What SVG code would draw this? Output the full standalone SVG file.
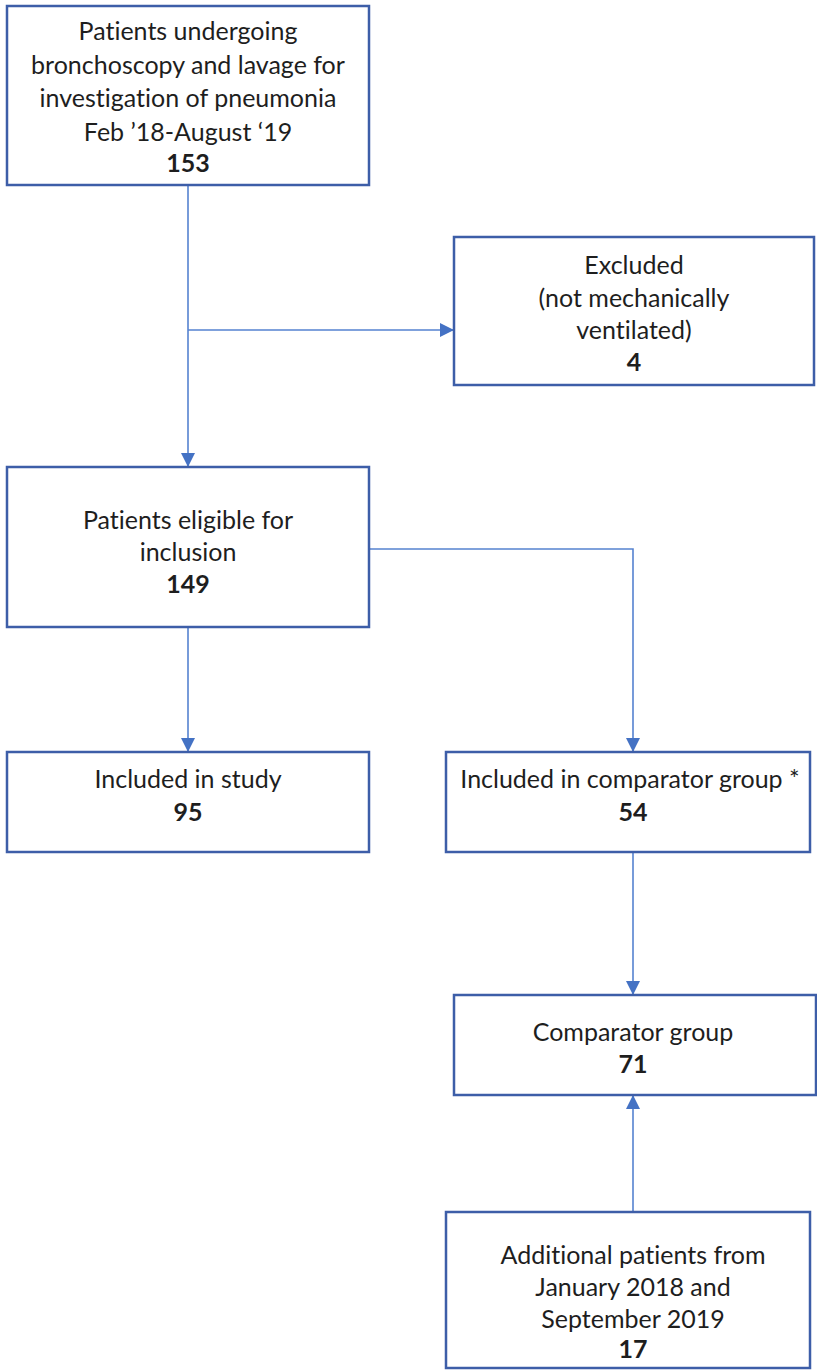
<svg xmlns="http://www.w3.org/2000/svg" width="817" height="1372" viewBox="0 0 817 1372">
<defs>
<style>
.box{fill:#fff;stroke:#3d5ea8;stroke-width:2.5}
.t{font-family:Lato,"Liberation Sans",sans-serif;font-size:25px;fill:#1e1e1e;text-anchor:middle;font-variant-ligatures:none}
.b{font-weight:bold}
.c{fill:none;stroke:#5582d0;stroke-width:1.6}
</style>
<marker id="ah2" viewBox="0 0 10 10" refX="10" refY="5" markerWidth="14" markerHeight="14" markerUnits="userSpaceOnUse" orient="auto"><path d="M0,0L10,5L0,10z" fill="#4472c4"/></marker>
</defs>
<rect width="817" height="1372" fill="#fff"/>
<g id="connectors">
<path class="c" d="M188,185V467" marker-end="url(#ah2)"/>
<path class="c" d="M188,330H454" marker-end="url(#ah2)"/>
<path class="c" d="M188,627V752" marker-end="url(#ah2)"/>
<path class="c" d="M369,549H633V752" marker-end="url(#ah2)"/>
<path class="c" d="M633,852V995" marker-end="url(#ah2)"/>
<path class="c" d="M633,1212V1095" marker-end="url(#ah2)"/>
</g>
<g id="n1"><rect class="box" x="7" y="6" width="362" height="179"/>
<text class="t" x="188" y="40">Patients undergoing</text>
<text class="t" x="188" y="74">bronchoscopy and lavage for</text>
<text class="t" x="188" y="107">investigation of pneumonia</text>
<text class="t" x="188" y="141">Feb ’18-August ‘19</text>
<text class="t b" x="188" y="172">153</text></g>
<g id="n2"><rect class="box" x="454" y="237" width="360" height="148"/>
<text class="t" x="634" y="274">Excluded</text>
<text class="t" x="634" y="307">(not mechanically</text>
<text class="t" x="634" y="339">ventilated)</text>
<text class="t b" x="634" y="371">4</text></g>
<g id="n3"><rect class="box" x="7" y="467" width="362" height="160"/>
<text class="t" x="188" y="529">Patients eligible for</text>
<text class="t" x="188" y="561">inclusion</text>
<text class="t b" x="188" y="593">149</text></g>
<g id="n4"><rect class="box" x="7" y="752" width="362" height="100"/>
<text class="t" x="188" y="788">Included in study</text>
<text class="t b" x="188" y="821">95</text></g>
<g id="n5"><rect class="box" x="446" y="752" width="364" height="100"/>
<text class="t" x="630" y="788">Included in comparator group *</text>
<text class="t b" x="633" y="821">54</text></g>
<g id="n6"><rect class="box" x="454" y="995" width="362" height="100"/>
<text class="t" x="633" y="1041">Comparator group</text>
<text class="t b" x="633" y="1073">71</text></g>
<g id="n7"><rect class="box" x="446" y="1212" width="364" height="156"/>
<text class="t" x="633" y="1264">Additional patients from</text>
<text class="t" x="633" y="1296">January 2018 and</text>
<text class="t" x="633" y="1328">September 2019</text>
<text class="t b" x="633" y="1358">17</text></g>
</svg>
